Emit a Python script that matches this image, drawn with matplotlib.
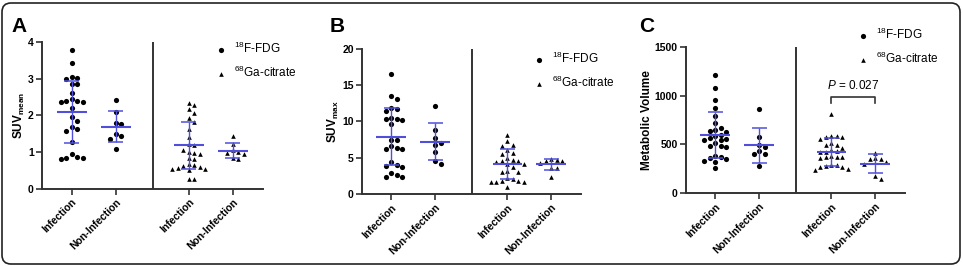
import matplotlib.pyplot as plt
import numpy as np
from matplotlib.patches import FancyBboxPatch
from matplotlib.transforms import IdentityTransform

plt.rcParams['font.family'] = ['Liberation Sans', 'DejaVu Sans']
plt.rcParams['mathtext.fontset'] = 'custom'
plt.rcParams['mathtext.rm'] = 'Liberation Sans'
plt.rcParams['mathtext.it'] = 'Liberation Sans:italic'
plt.rcParams['mathtext.bf'] = 'Liberation Sans:bold'

groups = ["Infection", "Non-Infection", "Infection", "Non-Infection"]
positions = [0, 1, 2.65, 3.65]
divider_x = 1.84
blue = '#4f4fdc'
axis_col = '#333333'

# Panel A - SUVmean
a_fdg_inf = [3.79, 3.43, 3.06, 3.03, 3.00, 2.85, 2.85, 2.61, 2.44, 2.40, 2.40, 2.38,
             2.37, 2.21, 1.95, 1.86, 1.69, 1.63, 1.58, 1.28, 0.95, 0.87, 0.85, 0.83, 0.80]
a_fdg_non = [2.42, 2.10, 1.80, 1.77, 1.50, 1.44, 1.35, 1.09]
a_ga_inf = [2.33, 2.29, 2.17, 2.06, 1.92, 1.83, 1.62, 1.42, 1.21, 1.19, 1.06, 1.01, 0.98,
            0.94, 0.85, 0.82, 0.67, 0.64, 0.62, 0.60, 0.56, 0.55, 0.53, 0.51, 0.26, 0.26]
a_ga_non = [1.44, 1.22, 1.06, 1.01, 0.97, 0.95, 0.83, 0.81]
a_mean = [2.10, 1.69, 1.19, 1.04]
a_sd = [0.85, 0.42, 0.64, 0.21]

# Panel B - SUVmax
b_fdg_inf = [16.6, 13.5, 13.1, 11.9, 11.7, 11.4, 10.5, 10.4, 10.3, 10.2, 9.6, 7.45, 7.45,
             6.6, 6.4, 6.2, 6.2, 4.4, 4.0, 3.8, 3.7, 2.85, 2.6, 2.3, 2.3]
b_fdg_non = [12.2, 8.8, 7.7, 7.1, 6.8, 5.8, 4.6, 4.1]
b_ga_inf = [8.2, 7.3, 6.8, 6.6, 6.1, 5.6, 5.5, 5.0, 4.7, 4.5, 4.5, 4.4, 4.2, 4.1, 3.7,
            3.2, 3.1, 3.0, 2.2, 2.0, 1.8, 1.8, 1.7, 1.7, 1.6, 0.9]
b_ga_non = [4.8, 4.7, 4.6, 4.5, 4.3, 3.6, 3.6, 2.4]
b_mean = [7.9, 7.2, 4.1, 4.1]
b_sd = [3.9, 2.55, 2.05, 0.75]

# Panel C - Metabolic volume
c_fdg_inf = [1215, 1080, 960, 870, 790, 720, 665, 650, 635, 625, 600, 590, 570, 555,
             545, 540, 510, 485, 480, 470, 385, 375, 360, 350, 330, 320, 255]
c_fdg_non = [865, 580, 495, 470, 435, 400, 400, 275]
c_ga_inf = [812, 590, 585, 580, 575, 560, 510, 495, 490, 460, 440, 430, 425, 420, 380,
            375, 370, 365, 360, 290, 285, 280, 270, 265, 250, 240]
c_ga_non = [415, 355, 350, 345, 315, 300, 170, 140]
c_mean = [597, 490, 421, 302]
c_sd = [234, 177, 140, 98]


def swarm_offsets(values, px_x, px_y, spacing=5.5):
    """Greedy beeswarm: returns x offsets (data units) for each value."""
    order = np.argsort(values)[::-1]
    placed = []
    offsets = np.zeros(len(values))
    for idx in order:
        y = values[idx] * px_y
        k = 0
        while True:
            step = (k + 1) // 2 * (1 if k % 2 else -1)
            cand = step * spacing
            if all((cand - px) ** 2 + (y - py) ** 2 >= spacing ** 2 for px, py in placed):
                break
            k += 1
        placed.append((cand, y))
        offsets[idx] = cand / px_x
    return offsets


def draw_panel(fig, rect, series, means, sds, ylim, yticks, ylabel, letter, letter_pos, leg_anchor):
    ax = fig.add_axes(rect)
    ax.set_xlim(-0.67, 4.33)
    ax.set_ylim(*ylim)
    bbox = ax.get_window_extent()
    px_x = bbox.width / (4.33 + 0.67)
    px_y = bbox.height / (ylim[1] - ylim[0])

    for i, vals in enumerate(series):
        vals = np.array(vals, dtype=float)
        off = swarm_offsets(vals, px_x, px_y)
        if i < 2:
            ax.scatter(positions[i] + off, vals, s=14, marker='o', color='black', lw=0, zorder=3,
                       label=r'$^{18}$F-FDG' if i == 0 else None)
        else:
            ax.scatter(positions[i] + off, vals, s=11, marker='^', color='black', lw=0, zorder=3,
                       label=r'$^{68}$Ga-citrate' if i == 2 else None)
        m, sd = means[i], sds[i]
        ax.hlines(m, positions[i] - 0.34, positions[i] + 0.34, color=blue, lw=1.5, zorder=4)
        ax.vlines(positions[i], m - sd, m + sd, color=blue, lw=1.0, zorder=4)
        ax.hlines([m - sd, m + sd], positions[i] - 0.17, positions[i] + 0.17, color=blue, lw=1.1, zorder=4)

    ax.axvline(divider_x, color=axis_col, lw=1.4)
    for s in ['top', 'right']:
        ax.spines[s].set_visible(False)
    for s in ['left', 'bottom']:
        ax.spines[s].set_color(axis_col)
        ax.spines[s].set_linewidth(1.4)
    ax.set_yticks(yticks)
    ax.set_xticks(positions)
    ax.set_xticklabels(groups, rotation=45, ha='right', rotation_mode='anchor', fontweight='bold')
    ax.tick_params(axis='both', length=4, width=1.2, color=axis_col, labelsize=7.5, pad=2)
    for lab in ax.get_yticklabels():
        lab.set_fontweight('bold')
    ax.set_ylabel(ylabel, fontsize=8.5, fontweight='bold', labelpad=1)
    ax.legend(loc='upper left', bbox_to_anchor=leg_anchor, frameon=False, fontsize=8.5,
              handlelength=1.0, handletextpad=0.6, labelspacing=0.75, borderaxespad=0)
    fig.text(letter_pos[0], letter_pos[1], letter, fontsize=15, fontweight='bold', va='center')
    return ax


fig = plt.figure(figsize=(9.63, 2.66), dpi=100)

draw_panel(fig, [0.0436, 0.2906, 0.2295, 0.5504],
           [a_fdg_inf, a_fdg_non, a_ga_inf, a_ga_non], a_mean, a_sd,
           (0, 4), [0, 1, 2, 3, 4], r'SUV$_{\mathregular{mean}}$', 'A', (0.012, 0.9), (0.76, 1.04))
draw_panel(fig, [0.3759, 0.2707, 0.2274, 0.5451],
           [b_fdg_inf, b_fdg_non, b_ga_inf, b_ga_non], b_mean, b_sd,
           (0, 20), [0, 5, 10, 15, 20], r'SUV$_{\mathregular{max}}$', 'B', (0.342, 0.9), (0.76, 1.02))
axc = draw_panel(fig, [0.7124, 0.2744, 0.2274, 0.5489],
                 [c_fdg_inf, c_fdg_non, c_ga_inf, c_ga_non], c_mean, c_sd,
                 (0, 1500), [0, 500, 1000, 1500], 'Metabolic Volume', 'C', (0.664, 0.9), (0.76, 1.17))

# significance bracket
axc.plot([positions[2], positions[2], positions[3], positions[3]], [925, 986, 986, 925],
         color=axis_col, lw=1.2, clip_on=False)
axc.text((positions[2] + positions[3]) / 2, 1040, r'$\mathit{P}$ = 0.027', ha='center', va='bottom', fontsize=8.5)

# rounded border
fig.add_artist(FancyBboxPatch((2, 2), 958, 261, boxstyle='round,pad=0,rounding_size=9',
                              transform=IdentityTransform(), fill=False, ec='#222222', lw=1.2))

fig.savefig('out.png', dpi=100)
